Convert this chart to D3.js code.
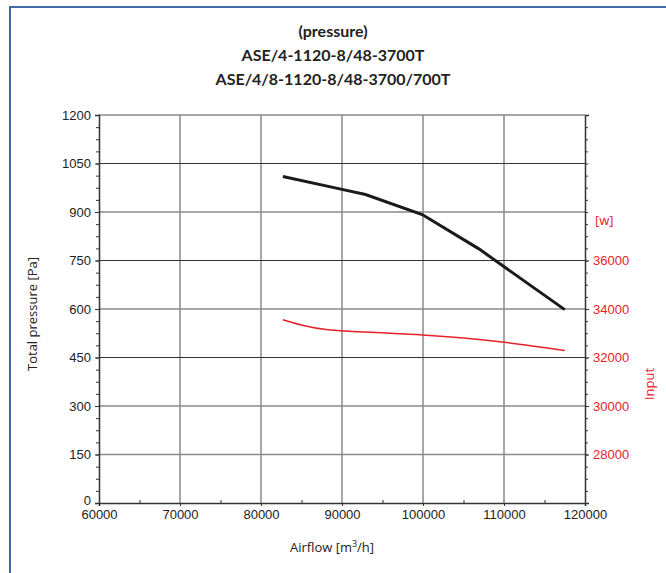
<!DOCTYPE html>
<html>
<head>
<meta charset="utf-8">
<script src="https://cdn.jsdelivr.net/npm/d3@7"></script>
<style>
  body { margin: 0; background: #fff; }
  svg { font-family: "Open Sans", sans-serif; }
</style>
</head>
<body>
<svg id="chart" width="666" height="573"></svg>
<script>
// curve data
const titleLines = ["(pressure)", "ASE/4-1120-8/48-3700T", "ASE/4/8-1120-8/48-3700/700T"];
const pressureFlow = [82700, 90000, 92900, 99900, 106900, 117500];
const pressureVals = [1010, 970, 954, 892, 786, 598];
const powerFlow = [82700, 85500, 88000, 92900, 99900, 105000, 110000, 117500];
const powerVals = [33560, 33300, 33150, 33050, 32930, 32800, 32630, 32290];
const xTicks = [60000, 70000, 80000, 90000, 100000, 110000, 120000];
const yTicks = [0, 150, 300, 450, 600, 750, 900, 1050, 1200];
const y2Ticks = [28000, 30000, 32000, 34000, 36000];

const red = "#e8202a";
const plotLeft = 99, plotRight = 585, plotTop = 115, plotBottom = 503;

const svg = d3.select("#chart");

// outer frame (only left and top edges are visible)
svg.append("path")
  .attr("d", "M10,600V7H700")
  .attr("fill", "none")
  .attr("stroke", "#3f6aa6")
  .attr("stroke-width", 2);

const x = d3.scaleLinear().domain([60000, 120000]).range([plotLeft, plotRight]);
const y = d3.scaleLinear().domain([0, 1200]).range([plotBottom, plotTop]);
const y2 = d3.scaleLinear().domain([26000, 42000]).range([plotBottom, plotTop]);

// title
svg.append("g").selectAll("text")
  .data(titleLines)
  .enter()
  .append("text")
  .attr("x", 333)
  .attr("y", (d, i) => 37 + i * 24)
  .attr("text-anchor", "middle")
  .style("font-family", "Lato, sans-serif")
  .style("font-size", "16px")
  .style("font-weight", "bold")
  .attr("fill", "#222")
  .text(d => d);

// grid
const dark = d => d === 1050 || d === 750 || d === 450;
const grid = svg.append("g");
grid.selectAll(".vg")
  .data(xTicks.slice(1, -1))
  .enter()
  .append("line")
  .attr("x1", d => x(d)).attr("x2", d => x(d))
  .attr("y1", plotTop).attr("y2", plotBottom)
  .attr("stroke", "#8a8a8a")
  .attr("stroke-width", 1.5);
grid.selectAll(".hg")
  .data(yTicks.slice(1))
  .enter()
  .append("line")
  .attr("x1", plotLeft).attr("x2", plotRight)
  .attr("y1", d => y(d)).attr("y2", d => y(d))
  .attr("stroke", d => dark(d) ? "#333" : "#8a8a8a")
  .attr("stroke-width", d => dark(d) ? 1.2 : 1.5);

// left axis
const yAxis = svg.append("g")
  .attr("transform", "translate(" + plotLeft + ",0)")
  .call(d3.axisLeft(y).tickValues(yTicks).tickSize(4).tickPadding(4).tickFormat(d3.format("d")));
svg.append("g")
  .attr("transform", "translate(" + plotLeft + ",0)")
  .call(d3.axisLeft(y).tickValues(d3.range(0, 1201, 37.5)).tickSize(3).tickFormat(""))
  .select(".domain").remove();
yAxis.selectAll("text").style("font-size", "13px").attr("fill", "#222");
yAxis.selectAll(".tick").filter(d => d === 0).select("text").attr("dy", "0.1em");

// right axis
const y2Axis = svg.append("g")
  .attr("transform", "translate(" + plotRight + ",0)")
  .call(d3.axisRight(y2).tickValues(y2Ticks).tickSize(4).tickPadding(4).tickFormat(d3.format("d")));
svg.append("g")
  .attr("transform", "translate(" + plotRight + ",0)")
  .call(d3.axisRight(y2).tickValues(d3.range(26000, 42001, 500)).tickSize(3).tickFormat(""))
  .select(".domain").remove();
y2Axis.selectAll("text").style("font-size", "13px").attr("fill", red);

// bottom axis
const xAxis = svg.append("g")
  .attr("transform", "translate(0," + plotBottom + ")")
  .call(d3.axisBottom(x).tickValues(xTicks).tickSize(3).tickPadding(4).tickFormat(d3.format("d")));
svg.append("g")
  .attr("transform", "translate(0," + plotBottom + ")")
  .call(d3.axisTop(x).tickValues(d3.range(65000, 120000, 10000)).tickSize(3).tickFormat(""))
  .select(".domain").remove();
xAxis.selectAll("text").style("font-size", "13px").attr("fill", "#222");

svg.selectAll(".domain").attr("stroke", "#333").attr("stroke-width", 1.5);
svg.selectAll(".tick line").attr("stroke", "#333");

// axis titles
svg.append("text")
  .attr("transform", "translate(37,314)rotate(-90)")
  .attr("text-anchor", "middle")
  .style("font-size", "13px")
  .attr("fill", "#222")
  .text("Total pressure [Pa]");

const xt = svg.append("text")
  .attr("x", 332).attr("y", 552)
  .attr("text-anchor", "middle")
  .style("font-size", "13px")
  .attr("fill", "#222");
xt.append("tspan").text("Airflow [m");
xt.append("tspan").attr("dy", -5).style("font-size", "9px").text("3");
xt.append("tspan").attr("dy", 5).text("/h]");

svg.append("text")
  .attr("x", 595).attr("y", 225)
  .style("font-size", "13px")
  .attr("fill", red)
  .text("[w]");

svg.append("text")
  .attr("transform", "translate(654,384)rotate(-90)")
  .attr("text-anchor", "middle")
  .style("font-size", "13px")
  .attr("fill", red)
  .text("Input");

// curves
const pLine = d3.line().x(d => x(d[0])).y(d => y(d[1]));
svg.append("path")
  .datum(d3.zip(pressureFlow, pressureVals))
  .attr("d", pLine)
  .attr("fill", "none")
  .attr("stroke", "#1a1a1a")
  .attr("stroke-width", 3);

const wLine = d3.line().x(d => x(d[0])).y(d => y2(d[1])).curve(d3.curveMonotoneX);
svg.append("path")
  .datum(d3.zip(powerFlow, powerVals))
  .attr("d", wLine)
  .attr("fill", "none")
  .attr("stroke", red)
  .attr("stroke-width", 1.5);
</script>
</body>
</html>
